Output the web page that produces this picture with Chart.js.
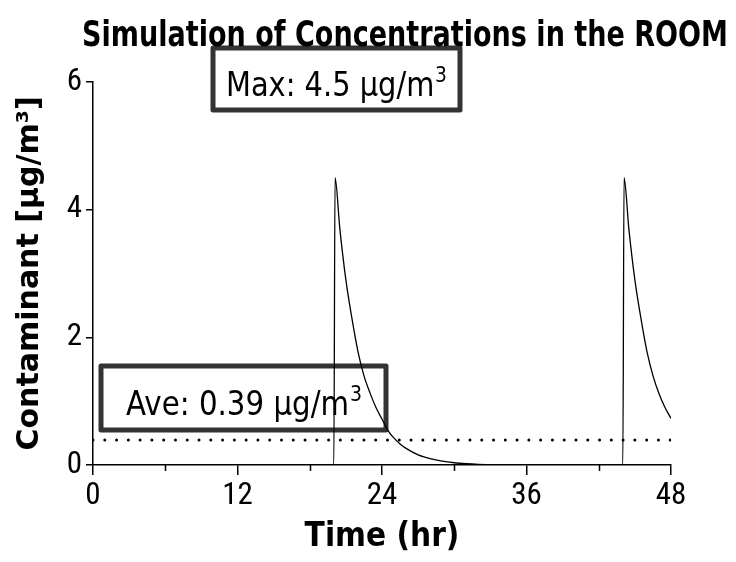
<!DOCTYPE html>
<html><head><meta charset="utf-8">
<script src="https://cdn.jsdelivr.net/npm/chart.js@4.4.1/dist/chart.umd.min.js"></script>
<style>html,body{margin:0;padding:0;background:#fff}#wrap{width:736px;height:562px}</style>
</head><body>
<div id="wrap"><canvas id="chart" width="736" height="562"></canvas></div>
<script>
// ---- data ----
const chartTitle = 'Simulation of Concentrations in the ROOM';
const xAxisTitle = 'Time (hr)';
const yAxisTitle = 'Contaminant [\u00b5g/m\u00b3]';
const timeHr = [0, 20, 20.1, 20.5, 21, 21.5, 22, 22.5, 23, 23.5, 24, 24.5, 25, 25.5, 26, 27, 28, 29, 30, 31, 32, 33, 34,
                44, 44.1, 44.5, 45, 45.5, 46, 46.5, 47, 47.5, 48];
const concentration = [0, 0, 4.5, 3.7, 2.9, 2.3, 1.78, 1.4, 1.13, 0.9, 0.72, 0.54, 0.42, 0.33, 0.26, 0.16, 0.1, 0.06, 0.035, 0.02, 0.01, 0.005, 0,
                0, 4.5, 3.7, 2.9, 2.3, 1.78, 1.4, 1.12, 0.9, 0.73];
const averageTimes = [0, 48];
const averageValue = 0.39;
const maxValue = 4.5;
const xTickValues = [0, 12, 24, 36, 48];
const xMinorTickValues = [6, 18, 30, 42];
const yTickValues = [0, 2, 4, 6];
const maxLabel = 'Max: ' + maxValue + ' \u03bcg/m';
const aveLabel = 'Ave: ' + averageValue + ' \u03bcg/m';

const curvePoints = timeHr.map((t, i) => ({x: t, y: concentration[i]}));
const avePoints = averageTimes.map(t => ({x: t, y: averageValue}));

function drawSquashed(ctx, text, sup, x, y, size, weight, targetW, align) {
  ctx.save();
  const fam = '"DejaVu Sans", sans-serif';
  ctx.font = weight + ' ' + size + 'px ' + fam;
  const w1 = ctx.measureText(text).width;
  let w2 = 0;
  const supSize = Math.round(size * 0.64);
  if (sup) { ctx.font = weight + ' ' + supSize + 'px ' + fam; w2 = ctx.measureText(sup).width + 1; }
  const total = w1 + w2;
  const sx = targetW / total;
  const x0 = align === 'center' ? x - targetW / 2 : x;
  ctx.translate(x0, y);
  ctx.scale(sx, 1);
  ctx.textAlign = 'left';
  ctx.textBaseline = 'alphabetic';
  ctx.fillStyle = '#000';
  ctx.font = weight + ' ' + size + 'px ' + fam;
  ctx.fillText(text, 0, 0);
  if (sup) {
    ctx.font = weight + ' ' + supSize + 'px ' + fam;
    ctx.fillText(sup, w1 + 1, -Math.round(size * 0.42));
  }
  ctx.restore();
}

const boxPlugin = {
  id: 'boxes',
  beforeDatasetsDraw(chart) {
    const ctx = chart.ctx;
    function box(x0, y0, x1, y1) {
      ctx.save();
      ctx.strokeStyle = '#333';
      ctx.lineWidth = 5;
      ctx.lineJoin = 'round';
      ctx.strokeRect(x0, y0, x1 - x0, y1 - y0);
      ctx.restore();
    }
    box(213, 48, 460, 110);
    drawSquashed(ctx, maxLabel, '3', 226, 96, 34, 'normal', 221, 'left');
    box(101, 366, 386, 430);
    drawSquashed(ctx, aveLabel, '3', 126, 415, 34, 'normal', 236, 'left');
  },
  afterDraw(chart) {
    const ctx = chart.ctx;
    drawSquashed(ctx, chartTitle, '', 405, 46, 36, 'bold', 646, 'center');
    // minor ticks on the x axis
    const xs = chart.scales.x;
    ctx.save();
    ctx.strokeStyle = '#000';
    ctx.lineWidth = 1.5;
    ctx.beginPath();
    for (const v of xMinorTickValues) {
      const px = Math.round(xs.getPixelForValue(v)) + 0.5;
      ctx.moveTo(px, xs.top);
      ctx.lineTo(px, xs.top + 6);
    }
    ctx.stroke();
    ctx.restore();
  }
};

new Chart(document.getElementById('chart'), {
  type: 'line',
  data: {
    datasets: [
      {
        data: curvePoints,
        borderColor: '#000',
        borderWidth: 1.3,
        pointRadius: 0,
        cubicInterpolationMode: 'monotone',
        fill: false
      },
      {
        data: avePoints,
        borderColor: '#000',
        borderWidth: 3,
        borderDash: [0, 11.78],
        borderCapStyle: 'round',
        pointRadius: 0,
        fill: false
      }
    ]
  },
  options: {
    responsive: false,
    animation: false,
    events: [],
    layout: {padding: {top: 82, right: 65, left: 0, bottom: 0}},
    plugins: {legend: {display: false}, tooltip: {enabled: false}, title: {display: false}},
    scales: {
      x: {
        type: 'linear', min: 0, max: 48,
        afterBuildTicks: s => { s.ticks = xTickValues.map(v => ({value: v})); },
        afterFit: s => { s.height = 97; },
        grid: {drawOnChartArea: false, drawTicks: true, tickLength: 10, color: '#000', lineWidth: 1.5},
        border: {display: true, color: '#000', width: 1.5},
        ticks: {color: '#000', padding: 3, maxRotation: 0, font: {family: '"Roboto Condensed", "DejaVu Sans Condensed"', size: 31}},
        title: {display: true, text: xAxisTitle, color: '#000', padding: {top: 0, bottom: 5},
                font: {family: '"DejaVu Sans Condensed", "DejaVu Sans"', size: 33, weight: 'bold'}}
      },
      y: {
        type: 'linear', min: 0, max: 6,
        afterBuildTicks: s => { s.ticks = yTickValues.map(v => ({value: v})); },
        afterFit: s => { s.width = 93; },
        grid: {drawOnChartArea: false, drawTicks: true, tickLength: 7, color: '#000', lineWidth: 1.5},
        border: {display: true, color: '#000', width: 1.5},
        ticks: {color: '#000', padding: 4, font: {family: '"Roboto Condensed", "DejaVu Sans Condensed"', size: 31}},
        title: {display: true, text: yAxisTitle, color: '#000', padding: {top: 12, bottom: 0},
                font: {family: '"DejaVu Sans"', size: 30, weight: 'bold'}}
      }
    }
  },
  plugins: [boxPlugin]
});
</script>
</body></html>
